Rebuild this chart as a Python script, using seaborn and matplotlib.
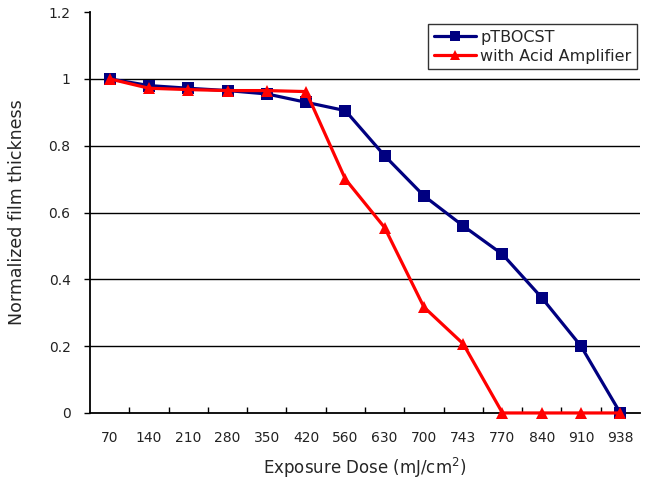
import pandas as pd
import matplotlib.pyplot as plt
import seaborn as sns
from matplotlib.ticker import FixedLocator

# Exposure dose categories (mJ/cm2) and normalized thickness per resist
doses = ["70", "140", "210", "280", "350", "420", "560", "630",
         "700", "743", "770", "840", "910", "938"]
ptbocst = [1.0, 0.98, 0.972, 0.965, 0.955, 0.93, 0.905, 0.77,
           0.65, 0.56, 0.475, 0.345, 0.2, 0.0]
acid_amp = [1.0, 0.972, 0.968, 0.965, 0.965, 0.962, 0.70, 0.555,
            0.317, 0.207, 0.0, 0.0, 0.0, 0.0]
series_names = ["pTBOCST", "with Acid Amplifier"]
y_ticks = [0, 0.2, 0.4, 0.6, 0.8, 1.0, 1.2]
y_labels = ["0", "0.2", "0.4", "0.6", "0.8", "1", "1.2"]

df = pd.DataFrame({
    "Dose": doses * 2,
    "Thickness": ptbocst + acid_amp,
    "Series": [series_names[0]] * len(doses) + [series_names[1]] * len(doses),
})

sns.set_style("white")
plt.rcParams["font.family"] = ["DejaVu Sans"]

fig = plt.figure(figsize=(6.5, 4.83), dpi=100)
ax = fig.add_axes([0.1385, 0.145, 0.846, 0.83])

sns.lineplot(data=df, x="Dose", y="Thickness", hue="Series", style="Series",
             palette={series_names[0]: "#000080", series_names[1]: "#ff0000"},
             markers={series_names[0]: "s", series_names[1]: "^"},
             dashes=False, linewidth=2.3, markersize=9, markeredgewidth=0,
             ax=ax)
for line in ax.get_lines():
    line.set_clip_on(False)
    line.set_zorder(5)

ax.set_xlim(-0.5, len(doses) - 0.5)
ax.set_ylim(0, 1.2)
ax.set_yticks(y_ticks)
ax.set_yticklabels(y_labels)
for y in y_ticks[1:-1]:
    ax.axhline(y, color="black", linewidth=1.0, zorder=0)

ax.set_xticks(range(len(doses)))
ax.set_xticklabels(doses)
ax.xaxis.set_minor_locator(FixedLocator([i + 0.5 for i in range(len(doses) - 1)]))
ax.tick_params(axis="x", which="major", length=0, pad=13, labelsize=10,
               labelcolor="#222222")
ax.tick_params(axis="x", which="minor", direction="in", length=4, width=1,
               color="black", bottom=True)
ax.tick_params(axis="y", which="major", direction="out", length=4, width=1,
               color="black", left=True, pad=10, labelsize=10,
               labelcolor="#222222")

for side in ["top", "right"]:
    ax.spines[side].set_visible(False)
for side in ["left", "bottom"]:
    ax.spines[side].set_color("black")
    ax.spines[side].set_linewidth(1.3)

ax.set_xlabel("Exposure Dose (mJ/cm$^2$)", fontsize=12, labelpad=8)
ax.set_ylabel("Normalized film thickness", fontsize=12.5, labelpad=16)

leg = ax.legend(loc="upper right", bbox_to_anchor=(0.995, 0.97), fontsize=11.5,
                frameon=True, fancybox=False, edgecolor="black",
                handlelength=2.6, handletextpad=0.3, borderpad=0.35,
                labelspacing=0.25, borderaxespad=0, markerscale=0.85)
leg.get_frame().set_linewidth(1.0)

plt.savefig("out.png", dpi=100)
